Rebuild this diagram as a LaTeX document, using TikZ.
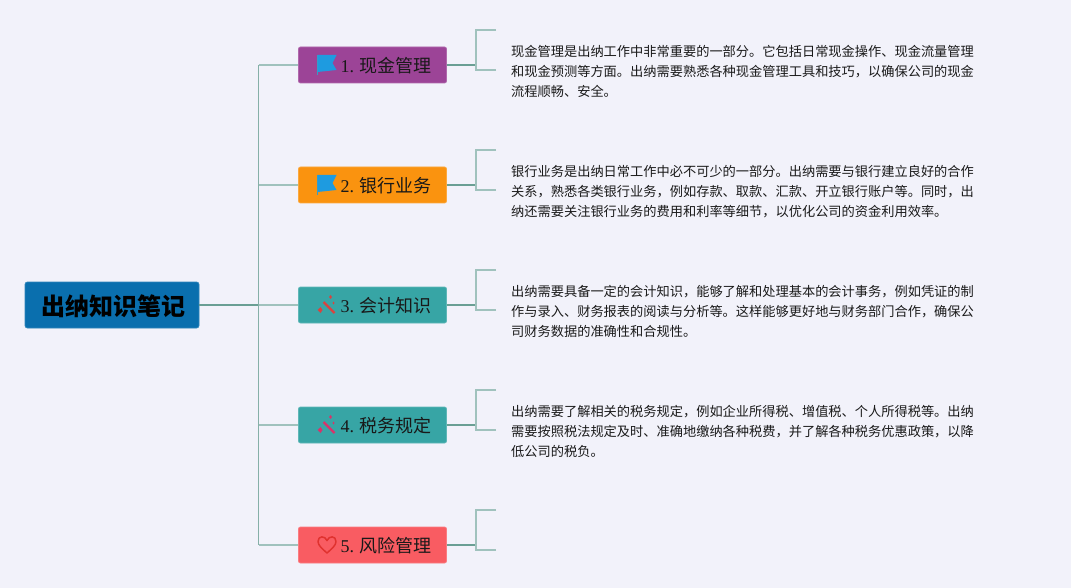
\documentclass[tikz,border=0pt]{standalone}
\usepackage{fontspec}
\setmainfont{Liberation Serif}
\newfontfamily\cjk{Noto Sans CJK SC}
\definecolor{bgc}{HTML}{F2F2FA}
\definecolor{linedark}{HTML}{6A9F94}
\definecolor{linemid}{HTML}{86B0A8}
\definecolor{linelight}{HTML}{A0C2BD}
\definecolor{cpurple}{HTML}{9C4497}
\definecolor{corange}{HTML}{FA930F}
\definecolor{cteal}{HTML}{37A5A5}
\definecolor{cred}{HTML}{F95C62}
\definecolor{cblue}{HTML}{0A6FAE}
\definecolor{cflag}{HTML}{1E9BE0}
\definecolor{cwand}{HTML}{D9433F}
\definecolor{cwandb}{HTML}{D8336B}
\definecolor{cheart}{HTML}{E0322F}
\definecolor{ctext}{HTML}{1A1A1A}
\tikzset{
  rootbox/.style={fill=cblue,draw=cblue!85!white,line width=.8pt,rounded corners=2.5pt,minimum width=174pt,minimum height=46pt,inner sep=0pt,text=black,text height=22pt,text depth=1.8pt,font=\fontsize{24}{28}\selectfont\cjk\bfseries},
  topicbox/.style={line width=.8pt,rounded corners=2pt,minimum width=148pt,minimum height=36pt,inner sep=0pt,text=black!90,text height=17pt,text depth=1.4pt,font=\fontsize{18}{22}\selectfont},
  notetext/.style={anchor=west,align=left,inner sep=0pt,text=ctext,font=\fontsize{13.22}{20}\selectfont\cjk},
  mainline/.style={draw=linedark,line width=1.6pt},
  trunkline/.style={draw=linemid,line width=1.3pt},
  sideline/.style={draw=linelight,line width=1.3pt},
  brk/.style={draw=linelight,line width=1.3pt},
}
\newcommand{\lbl}[2]{\hspace*{27pt}#1\hspace{5.5pt}{\cjk #2}}
\newcommand{\flagicon}[1]{%
  \begin{scope}[shift={(#1)}]
    \fill[cflag] (-55,-10) -- (-36,-10) -- (-40,-2) -- (-36,5) -- (-55,7) -- cycle;
    \draw[cflag!70!linedark,line width=.8pt] (-55,-10) -- (-55,10);
  \end{scope}}
\newcommand{\wandicon}[2]{%
  \begin{scope}[shift={(#1)}]
    \draw[#2,line width=2.2pt] (-49,-3) -- (-38,8);
    \fill[#2] (-52,2) -- (-50,5) -- (-52,8) -- (-55,5) -- cycle;
    \fill[#2] (-42,-10) -- (-40.5,-8) -- (-42,-6) -- (-43.5,-8) -- cycle;
    \fill[#2] (-39,-3.5) -- (-38,-2) -- (-39,-.5) -- (-40,-2) -- cycle;
  \end{scope}}
\newcommand{\hearticon}[1]{%
  \begin{scope}[shift={(#1)}]
    \draw[cheart,line width=1.5pt,line join=round] (-45.5,8) .. controls (-50,4) and (-54.5,0.5) .. (-54.5,-3.5)
      .. controls (-54.5,-9.5) and (-47.5,-9.5) .. (-45.5,-4.5)
      .. controls (-43.5,-9.5) and (-36.5,-9.5) .. (-36.5,-3.5)
      .. controls (-36.5,0.5) and (-41,4) .. (-45.5,8) -- cycle;
  \end{scope}}
\begin{document}
\begin{tikzpicture}[x=1pt,y=-1pt]
\useasboundingbox (0,0) rectangle (1071,588);
\fill[bgc] (0,0) rectangle (1071,588);

\coordinate (trunk) at (258.5,305);
\foreach \i/\y in {1/65,2/185,3/305,4/425,5/545}{
  \coordinate (fork\i) at (476,\y);
  \coordinate (up\i) at (496,\y-35);
  \coordinate (dn\i) at (496,\y+5);
}
% nodes
\node[rootbox] (root) at (112,305) {\hspace*{2pt}出纳知识笔记};
\node[topicbox,fill=cpurple,draw=cpurple!80!white] (t1) at (372.5,65) {\lbl{1.}{现金管理}};
\node[topicbox,fill=corange,draw=corange!80!white] (t2) at (372.5,185) {\lbl{2.}{银行业务}};
\node[topicbox,fill=cteal,draw=cteal!80!white] (t3) at (372.5,305) {\lbl{3.}{会计知识}};
\node[topicbox,fill=cteal,draw=cteal!80!white] (t4) at (372.5,425) {\lbl{4.}{税务规定}};
\node[topicbox,fill=cred,draw=cred!80!white] (t5) at (372.5,545) {\lbl{5.}{风险管理}};

% connectors
\draw[mainline] (root.east) -- (trunk);
\draw[trunkline] (trunk) -- (trunk |- t1.west);
\draw[trunkline] (trunk) -- (trunk |- t5.west);
\foreach \i in {1,...,5}{
  \draw[sideline] (trunk |- t\i.west) -- (t\i.west);
  \draw[mainline] (t\i.east) -- (fork\i);
  \draw[brk] (up\i) -| (fork\i);
  \draw[brk] (dn\i) -| (fork\i);
}

% icons
\flagicon{t1}
\flagicon{t2}
\wandicon{t3}{cwand}
\wandicon{t4}{cwandb}
\hearticon{t5}

% notes
\node[notetext] (n1) at (511,71.8) {现金管理是出纳工作中非常重要的一部分。它包括日常现金操作、现金流量管理\\和现金预测等方面。出纳需要熟悉各种现金管理工具和技巧，以确保公司的现金\\流程顺畅、安全。};
\node[notetext] (n2) at (511,191.8) {银行业务是出纳日常工作中必不可少的一部分。出纳需要与银行建立良好的合作\\关系，熟悉各类银行业务，例如存款、取款、汇款、开立银行账户等。同时，出\\纳还需要关注银行业务的费用和利率等细节，以优化公司的资金利用效率。};
\node[notetext] (n3) at (511,311.8) {出纳需要具备一定的会计知识，能够了解和处理基本的会计事务，例如凭证的制\\作与录入、财务报表的阅读与分析等。这样能够更好地与财务部门合作，确保公\\司财务数据的准确性和合规性。};
\node[notetext] (n4) at (511,431.8) {出纳需要了解相关的税务规定，例如企业所得税、增值税、个人所得税等。出纳\\需要按照税法规定及时、准确地缴纳各种税费，并了解各种税务优惠政策，以降\\低公司的税负。};
\end{tikzpicture}
\end{document}
